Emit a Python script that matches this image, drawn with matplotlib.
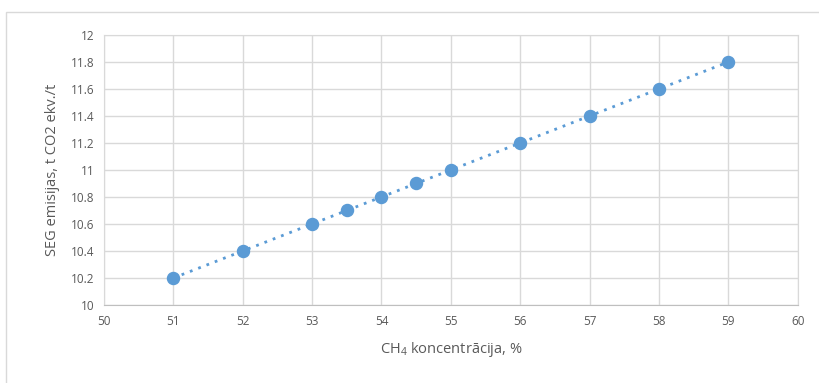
import matplotlib.pyplot as plt
from matplotlib.patches import Rectangle

# data
ch4 = [51, 52, 53, 53.5, 54, 54.5, 55, 56, 57, 58, 59]
emissions = [10.2, 10.4, 10.6, 10.7, 10.8, 10.9, 11.0, 11.2, 11.4, 11.6, 11.8]
x_ticks = list(range(50, 61))
y_ticks = [10, 10.2, 10.4, 10.6, 10.8, 11, 11.2, 11.4, 11.6, 11.8, 12]

plt.rcParams['font.family'] = ['Open Sans', 'DejaVu Sans']
plt.rcParams['mathtext.default'] = 'regular'

fig = plt.figure(figsize=(8.2, 3.83), dpi=100)
ax = fig.add_axes([0.1268, 0.2037, 0.846, 0.705])

# outer chart frame
fig.patches.append(Rectangle((6 / 820, -0.1), 1.2, 1 - 12 / 383 + 0.1,
                             transform=fig.transFigure, fill=False,
                             edgecolor='#d9d9d9', linewidth=1))

blue = '#5b9bd5'
ax.plot(ch4, emissions, linestyle=(0, (1, 2.2)), color=blue, linewidth=2)
ax.scatter(ch4, emissions, s=75, color=blue, zorder=3)

ax.set_xlim(50, 60)
ax.set_ylim(10, 12)
ax.set_xticks(x_ticks)
ax.set_yticks(y_ticks)
ax.set_yticklabels([f'{v:g}' for v in y_ticks])
ax.grid(True, color='#d9d9d9', linewidth=1)
ax.set_axisbelow(True)
for side in ['top', 'right', 'left']:
    ax.spines[side].set_color('#d9d9d9')
ax.spines['bottom'].set_color('#bfbfbf')
ax.tick_params(length=0, labelsize=8.5, labelcolor='#595959', pad=7)

ax.set_xlabel('CH$_4$ koncentrācija, %', fontsize=10.5, color='#595959', labelpad=9)
ax.set_ylabel('SEG emisijas, t CO2 ekv./t', fontsize=10.5, color='#595959', labelpad=8)

fig.savefig('out.png', dpi=100)
